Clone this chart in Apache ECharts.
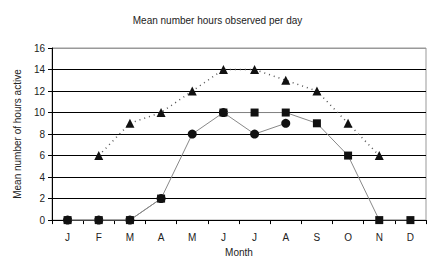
<!DOCTYPE html>
<html>
<head>
<meta charset="utf-8">
<script src="https://cdn.jsdelivr.net/npm/echarts@6/dist/echarts.min.js"></script>
<style>
  html, body { margin: 0; padding: 0; background: #fff; }
  #chart { width: 435px; height: 262px; }
</style>
</head>
<body>
<div id="chart"></div>
<script>
// months along the x axis
const months = ['J', 'F', 'M', 'A', 'M', 'J', 'J', 'A', 'S', 'O', 'N', 'D'];

// hours per day
const triangleHours = [null, 6, 9, 10, 12, 14, 14, 13, 12, 9, 6, null];
const circleHours = [0, 0, 0, 2, 8, 10, 8, 9, null, null, null, null];
const squareHours = [0, 0, 0, 2, null, 10, 10, 10, 9, 6, 0, 0];

const font = 'Liberation Sans, Arial, sans-serif';

const chart = echarts.init(document.getElementById('chart'), null, { renderer: 'svg' });

chart.setOption({
    animation: false,
    title: {
        text: 'Mean number hours observed per day',
        left: 'center',
        top: 10,
        textStyle: { fontFamily: font, fontSize: 10, fontWeight: 'normal', color: '#222' }
    },
    grid: {
        left: 52, right: 9, top: 48, bottom: 40,
        show: true, borderColor: '#999', borderWidth: 1
    },
    xAxis: {
        type: 'category',
        data: months,
        boundaryGap: true,
        name: 'Month',
        nameLocation: 'middle',
        nameGap: 25,
        nameTextStyle: { fontFamily: font, fontSize: 10, color: '#222' },
        axisLine: { lineStyle: { color: '#000', width: 1 } },
        axisTick: { show: true, interval: 0, length: 4, lineStyle: { color: '#000' } },
        axisLabel: { fontFamily: font, fontSize: 10, color: '#222', margin: 12 }
    },
    yAxis: {
        type: 'value',
        min: 0, max: 16, interval: 2,
        name: 'Mean number of hours active',
        nameLocation: 'middle',
        nameGap: 30,
        nameTextStyle: { fontFamily: font, fontSize: 10, color: '#222' },
        axisLine: { show: true, lineStyle: { color: '#000', width: 1 } },
        axisTick: { show: true, length: 4, lineStyle: { color: '#000' } },
        axisLabel: { fontFamily: font, fontSize: 10, color: '#222', margin: 7 },
        splitLine: {
            show: true,
            lineStyle: { color: ['#000', '#000', '#000', '#000', '#000', '#000', '#000', '#000', '#999'], width: 1 }
        }
    },
    series: [
        {
            name: 'triangle',
            type: 'line',
            data: triangleHours,
            symbol: 'triangle',
            symbolSize: 9,
            itemStyle: { color: '#111' },
            lineStyle: { color: '#555', width: 1.5, type: [1, 4] },
            z: 3
        },
        {
            name: 'circle',
            type: 'line',
            data: circleHours,
            symbol: 'circle',
            symbolSize: 9,
            itemStyle: { color: '#111' },
            lineStyle: { color: '#888', width: 1 },
            z: 4
        },
        {
            name: 'square',
            type: 'line',
            data: squareHours,
            symbol: 'rect',
            symbolSize: 8,
            itemStyle: { color: '#111' },
            lineStyle: { color: '#888', width: 1 },
            z: 5
        }
    ]
});
</script>
</body>
</html>
